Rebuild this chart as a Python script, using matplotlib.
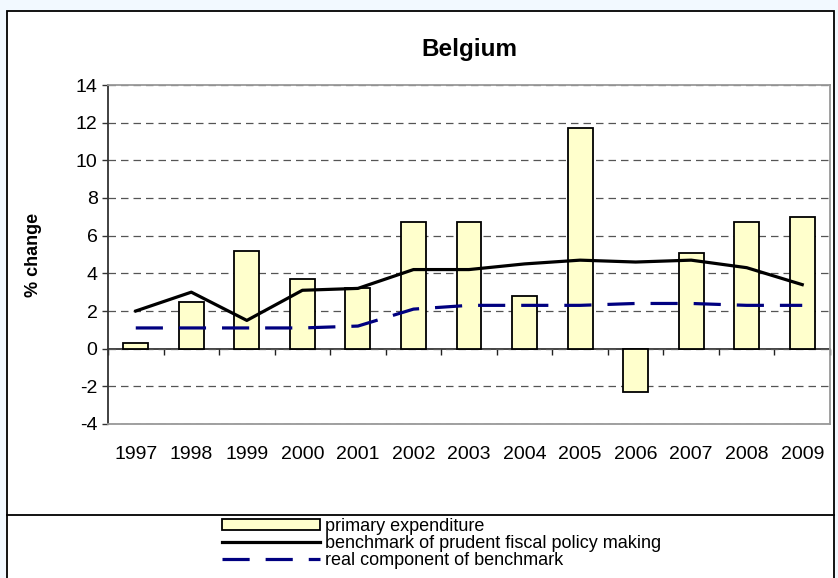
import matplotlib
matplotlib.use("Agg")
import matplotlib.pyplot as plt
from matplotlib.patches import Rectangle
from matplotlib.lines import Line2D
import numpy as np

plt.rcParams['font.family'] = ['Liberation Sans', 'DejaVu Sans']

years = ["1997", "1998", "1999", "2000", "2001", "2002", "2003",
         "2004", "2005", "2006", "2007", "2008", "2009"]
primary_exp = [0.3, 2.5, 5.2, 3.7, 3.2, 6.7, 6.7, 2.8, 11.7, -2.3, 5.1, 6.7, 7.0]
benchmark = [2.0, 3.0, 1.5, 3.1, 3.2, 4.2, 4.2, 4.5, 4.7, 4.6, 4.7, 4.3, 3.4]
real_comp = [1.1, 1.1, 1.1, 1.1, 1.2, 2.1, 2.3, 2.3, 2.3, 2.4, 2.4, 2.3, 2.3]
yticks = [-4, -2, 0, 2, 4, 6, 8, 10, 12, 14]

W, H = 838, 578
fig = plt.figure(figsize=(W / 100, H / 100), dpi=100)
fig.patch.set_facecolor('#F2F9FF')

# chart frame (white box, cut off at bottom of image)
fig.add_artist(Rectangle((7 / W, -0.05), 827 / W, 1 - 11 / H + 0.05,
                         transform=fig.transFigure, facecolor='white',
                         edgecolor='black', lw=1.3, zorder=0))
fig.add_artist(Line2D([7 / W, 834 / W], [1 - 515 / H, 1 - 515 / H],
                      transform=fig.transFigure, color='black', lw=1.3))

ax = fig.add_axes([108 / W, 1 - 424 / H, 722 / W, 339 / H])
x = np.arange(len(years))

bars = ax.bar(x, primary_exp, width=0.45, color='#FFFFCC', edgecolor='black',
              lw=1.3, zorder=2, label='primary expenditure')
l1, = ax.plot(x, benchmark, color='black', lw=2.3, zorder=3,
              label='benchmark of prudent fiscal policy making')
l2, = ax.plot(x, real_comp, color='#000080', lw=2.3, dashes=(8.5, 5), zorder=3,
              label='real component of benchmark')

ax.set_xlim(-0.5, len(years) - 0.5)
ax.set_ylim(-4, 14)
ax.set_yticks(yticks)
ax.set_yticklabels([str(v) for v in yticks], fontsize=14)
ax.set_xticks(x)
ax.set_xticklabels(years, fontsize=14)
ax.tick_params(axis='x', length=0, pad=16)
ax.tick_params(axis='y', direction='out', length=4.5, width=1, pad=3,
               color='#333333')
ax.yaxis.grid(True, color='#555555', lw=0.9, dashes=(6, 4))
ax.set_axisbelow(True)

for side in ['top', 'right', 'bottom']:
    ax.spines[side].set_color('#999999')
    ax.spines[side].set_linewidth(1.3)
ax.spines['left'].set_color('#333333')
ax.spines['left'].set_linewidth(1.3)

# zero axis with category boundary ticks
zax = ax.secondary_xaxis(4 / 18)
zax.set_xticks(np.arange(len(years) + 1) - 0.5)
zax.set_xticklabels([])
zax.tick_params(direction='out', length=4.5, width=1, color='#222222')
zax.spines['bottom'].set_color('#222222')
zax.spines['bottom'].set_linewidth(1.2)

ax.set_title('Belgium', fontsize=17.5, fontweight='bold', pad=21)
ax.set_ylabel('% change', fontsize=13, fontweight='bold', labelpad=24)

fig.legend(handles=[bars, l1, l2], loc='upper left',
           bbox_to_anchor=(222 / W, 1 - 518 / H),
           frameon=False, fontsize=13, labelspacing=0.0, handlelength=5.4,
           handleheight=0.6, handletextpad=0.3, borderpad=0, borderaxespad=0)

fig.savefig('out.png', dpi=100, facecolor=fig.get_facecolor())
